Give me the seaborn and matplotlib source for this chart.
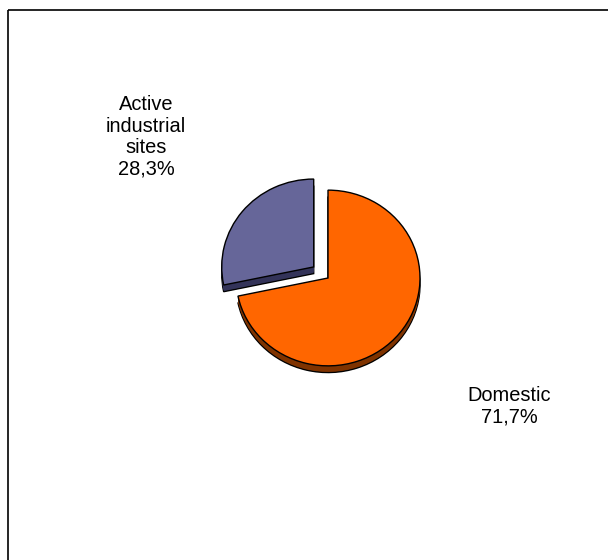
import matplotlib
matplotlib.use("Agg")
import matplotlib.pyplot as plt
import matplotlib.transforms as mtransforms
import seaborn as sns

sns.set_style("white")
plt.rcParams['font.family'] = ['Liberation Sans', 'DejaVu Sans']

categories = ["Domestic", "Active industrial sites"]
label_text = ["Domestic", "Active\nindustrial\nsites"]
values = [71.7, 28.3]
top_colors = ["#FF6600", "#666699"]
side_colors = ["#7F3300", "#333359"]
explode_frac = [0.0, 0.2]

W, H = 608, 560
fig = plt.figure(figsize=(W / 100, H / 100), dpi=100)
ax = fig.add_axes([0, 0, 1, 1])

cx, cy = 328, 560 - 278
r = 92
squash = 0.955
depth = 7
explode = [e * r for e in explode_frac]

def ell():
    return (mtransforms.Affine2D().translate(-cx, -cy).scale(1, squash).translate(cx, cy)
            + ax.transData)

# side (depth) layers
for d in range(depth, 0, -1):
    wedges, _ = ax.pie(values, colors=side_colors, startangle=90, counterclock=False,
                       explode=explode, radius=r, center=(cx, cy - d),
                       wedgeprops=dict(linewidth=1.0 if d == depth else 0,
                                       edgecolor="black" if d == depth else "none"))
    for w in wedges:
        w.set_transform(ell())

# top faces
wedges, _ = ax.pie(values, colors=top_colors, startangle=90, counterclock=False,
                   explode=explode, radius=r, center=(cx, cy),
                   wedgeprops=dict(linewidth=1.0, edgecolor="black"))
for w in wedges:
    w.set_transform(ell())

ax.set_xlim(0, W)
ax.set_ylim(0, H)
ax.set_aspect("equal")
ax.axis("off")

def fmt(v):
    return f"{v:.1f}".replace(".", ",") + "%"

label_pos = [(509, 560 - 406), (146, 560 - 137)]
for txt, v, (tx, ty) in zip(label_text, values, label_pos):
    ax.text(tx, ty, txt + "\n" + fmt(v), ha="center", va="center",
            fontsize=14.4, color="black", linespacing=1.17)

# chart area border (top and left visible)
ax.plot([8, W], [H - 10, H - 10], color="black", linewidth=1.2, solid_capstyle="butt")
ax.plot([8, 8], [H - 10, 0], color="black", linewidth=1.2, solid_capstyle="butt")

fig.savefig("out.png", dpi=100)
